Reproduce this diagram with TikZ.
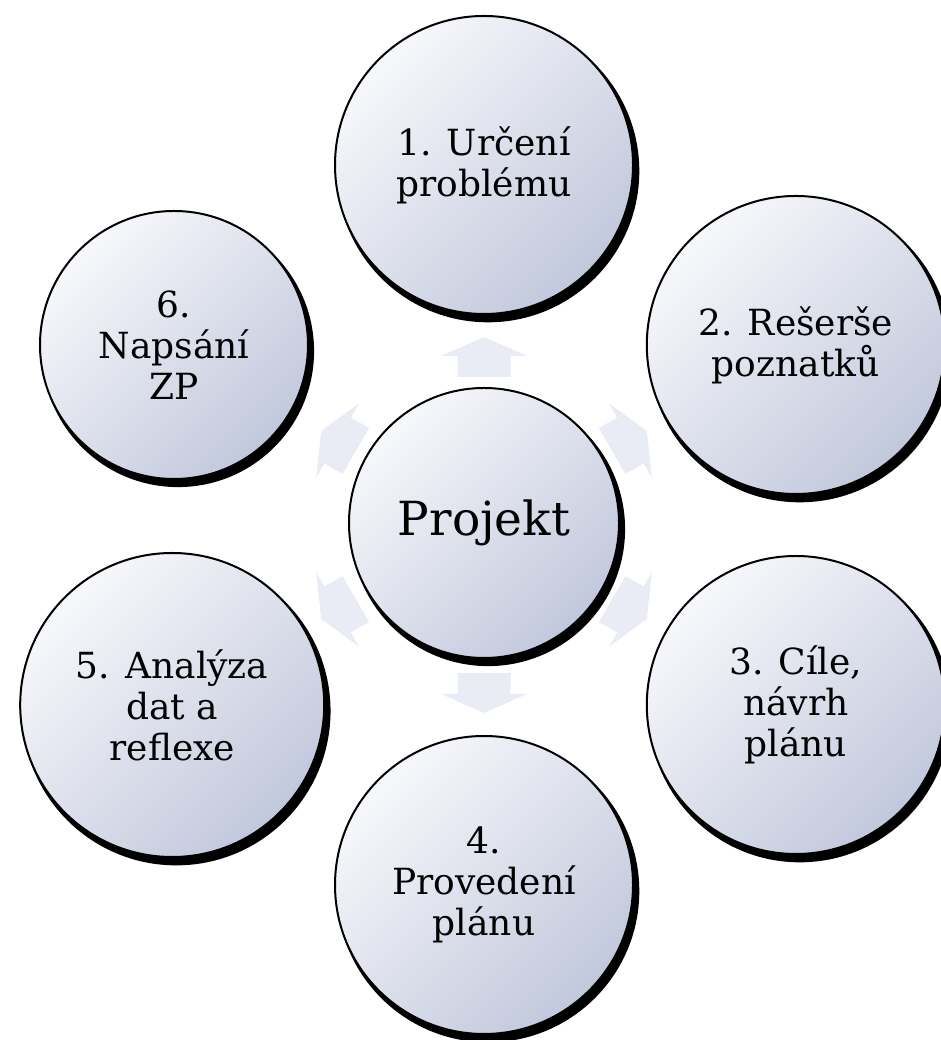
\documentclass[tikz,border=0pt]{standalone}
\usepackage{fontspec}
\setmainfont{DejaVu Serif}
\usetikzlibrary{shadows}
\definecolor{ctop}{HTML}{F7F8FB}
\definecolor{cbot}{HTML}{C2C8DC}
\definecolor{afill}{HTML}{E9ECF4}
\tikzset{
  bubble/.style={circle, inner sep=0pt, draw=black, line width=2pt,
    top color=ctop, bottom color=cbot, shading angle=45,
    general shadow={fill=black, shadow xshift=4pt, shadow yshift=-6pt, shadow scale=1.015},
    font=\fontsize{36}{41}\selectfont, align=center},
  outer/.style={bubble, minimum size=298pt},
  hub/.style={bubble, minimum size=270pt, font=\fontsize{47}{52}\selectfont},
  barrow/.pic={
    \fill[afill] (-20,-26.5) -- (1,-26.5) -- (1,-43) -- (20,0) -- (1,43)
      -- (1,26.5) -- (-20,26.5) -- cycle;
  }
}
\begin{document}
\begin{tikzpicture}[x=1pt,y=1pt]
\useasboundingbox (0,0) rectangle (940,1040);
% faint block arrows pointing from the hub to each step
\pic (a1) [rotate=90]  at (484,683)   {barrow};
\pic (a2) [rotate=30]  at (629.5,599) {barrow};
\pic (a3) [rotate=-30] at (629.5,431) {barrow};
\pic (a4) [rotate=-90] at (484,347)   {barrow};
\pic (a5) [rotate=210] at (338.5,431) {barrow};
\pic (a6) [rotate=150] at (338.5,599) {barrow};
% circles
\node[hub] (c0) at (484,517) {Projekt};
\node[outer] (c1) at (484,875) {1. Určení\\problému};
\node[outer] (c2) at (795.8,695) {2. Rešerše\\poznatků};
\node[outer] (c3) at (795.8,335) {3. Cíle,\\návrh\\plánu};
\node[outer] (c4) at (484,155) {4.\\Provedení\\plánu};
\node[outer, minimum size=304pt] (c5) at (172.2,335) {5. Analýza\\dat a\\reflexe};
\node[outer, minimum size=268pt] (c6) at (174,695) {6.\\Napsání\\ZP};
\end{tikzpicture}
\end{document}
